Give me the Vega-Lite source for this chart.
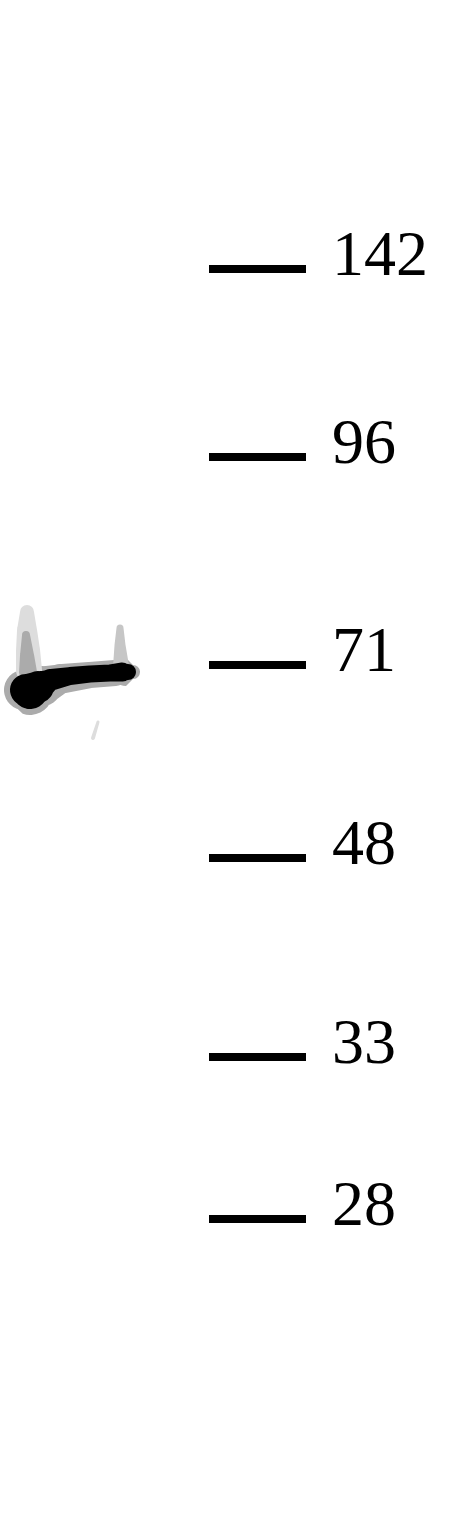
{
  "$schema": "https://vega.github.io/schema/vega-lite/v6.json",
  "width": 461,
  "height": 1520,
  "autosize": {"type": "none"},
  "padding": 0,
  "background": "white",
  "config": {"view": {"stroke": null}},
  "datasets": {
    "ladder": [
      {"mw": "142", "pos": 269},
      {"mw": "96", "pos": 457},
      {"mw": "71", "pos": 665},
      {"mw": "48", "pos": 858},
      {"mw": "33", "pos": 1057},
      {"mw": "28", "pos": 1219}
    ],
    "smear": [
      {"part": "halo", "shade": 0.3, "x": 24, "y": 690, "w": 40},
      {"part": "halo", "shade": 0.3, "x": 30, "y": 692, "w": 46},
      {"part": "halo", "shade": 0.3, "x": 42, "y": 686, "w": 40},
      {"part": "halo", "shade": 0.3, "x": 60, "y": 679, "w": 30},
      {"part": "halo", "shade": 0.3, "x": 90, "y": 675, "w": 26},
      {"part": "halo", "shade": 0.3, "x": 115, "y": 673, "w": 26},
      {"part": "halo", "shade": 0.3, "x": 126, "y": 672, "w": 28},
      {"part": "halo", "shade": 0.3, "x": 133, "y": 672, "w": 14},
      {"part": "left", "shade": 0.12, "x": 27, "y": 612, "w": 14},
      {"part": "left", "shade": 0.12, "x": 27, "y": 630, "w": 20},
      {"part": "left", "shade": 0.12, "x": 28, "y": 650, "w": 24},
      {"part": "left", "shade": 0.12, "x": 29, "y": 670, "w": 26},
      {"part": "leftinner", "shade": 0.3, "x": 26, "y": 635, "w": 8},
      {"part": "leftinner", "shade": 0.3, "x": 27, "y": 655, "w": 14},
      {"part": "leftinner", "shade": 0.3, "x": 28, "y": 672, "w": 18},
      {"part": "right", "shade": 0.2, "x": 120, "y": 628, "w": 7},
      {"part": "right", "shade": 0.2, "x": 120, "y": 645, "w": 11},
      {"part": "right", "shade": 0.2, "x": 121, "y": 666, "w": 16},
      {"part": "speck", "shade": 0.12, "x": 98, "y": 722, "w": 3},
      {"part": "speck", "shade": 0.12, "x": 93, "y": 738, "w": 4}
    ],
    "band": [
      {"x": 26, "y": 690, "w": 32},
      {"x": 30, "y": 691, "w": 36},
      {"x": 38, "y": 687, "w": 32},
      {"x": 50, "y": 680, "w": 22},
      {"x": 70, "y": 676, "w": 18},
      {"x": 90, "y": 674, "w": 17},
      {"x": 110, "y": 673, "w": 17},
      {"x": 122, "y": 672, "w": 19},
      {"x": 128, "y": 672, "w": 16},
      {"x": 132, "y": 672, "w": 8}
    ]
  },
  "resolve": {"scale": {"size": "shared"}},
  "layer": [
    {
      "data": {"name": "smear"},
      "mark": {"type": "trail"},
      "encoding": {
        "x": {"field": "x", "type": "quantitative", "scale": {"domain": [0, 461], "nice": false, "zero": false}, "axis": null},
        "y": {"field": "y", "type": "quantitative", "scale": {"domain": [0, 1520], "nice": false, "reverse": true}, "axis": null},
        "size": {"field": "w", "type": "quantitative", "scale": {"domain": [0, 100], "range": [0, 100], "zero": true, "nice": false}, "legend": null},
        "color": {"field": "shade", "type": "quantitative", "scale": {"domain": [0, 1], "range": ["white", "black"]}, "legend": null},
        "detail": {"field": "part"},
        "order": {"field": "y"}
      }
    },
    {
      "data": {"name": "band"},
      "mark": {"type": "trail", "color": "black"},
      "encoding": {
        "x": {"field": "x", "type": "quantitative"},
        "y": {"field": "y", "type": "quantitative"},
        "size": {"field": "w", "type": "quantitative", "legend": null},
        "order": {"field": "x"}
      }
    },
    {
      "data": {"name": "ladder"},
      "mark": {"type": "rule", "color": "black", "strokeWidth": 8},
      "encoding": {
        "x": {"datum": 209},
        "x2": {"datum": 306},
        "y": {"field": "pos", "type": "quantitative"}
      }
    },
    {
      "data": {"name": "ladder"},
      "mark": {"type": "text", "align": "left", "baseline": "alphabetic", "dy": 6, "font": "Liberation Serif", "fontSize": 64, "color": "black"},
      "encoding": {
        "x": {"datum": 332},
        "y": {"field": "pos", "type": "quantitative"},
        "text": {"field": "mw"}
      }
    }
  ]
}
